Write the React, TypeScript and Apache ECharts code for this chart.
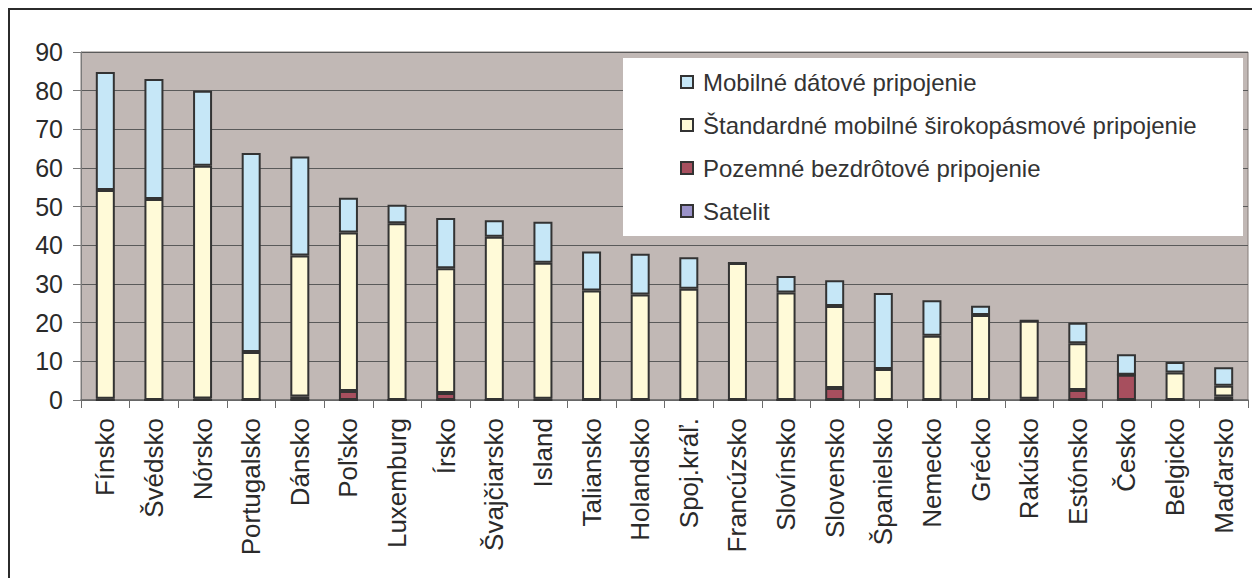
import React, { useEffect, useRef } from "react";
import * as echarts from "echarts";

const categories = [
  "Fínsko", "Švédsko", "Nórsko", "Portugalsko", "Dánsko", "Poľsko", "Luxemburg", "Írsko",
  "Švajčiarsko", "Island", "Taliansko", "Holandsko", "Spoj.kráľ.", "Francúzsko", "Slovínsko",
  "Slovensko", "Španielsko", "Nemecko", "Grécko", "Rakúsko", "Estónsko", "Česko", "Belgicko", "Maďarsko",
];

const satelit = [0, 0, 0, 0, 0, 0, 0, 0, 0, 0, 0, 0, 0, 0, 0, 0, 0, 0, 0, 0, 0, 0, 0, 0];
const pozemne = [0.3, 0, 0.4, 0, 0.9, 2.3, 0, 1.8, 0, 0.3, 0, 0, 0, 0, 0, 3.1, 0, 0, 0, 0.3, 2.6, 6.5, 0, 0.9];
const standard = [54, 52, 60.2, 12.4, 36.5, 41, 45.7, 32.3, 42.2, 35.2, 28.3, 27.3, 28.8, 35.4, 27.8, 21.2, 8.0, 16.6, 22.0, 20.2, 12.1, 0, 7.1, 2.8];
const mobilne = [30.5, 31, 19.4, 51.5, 25.6, 9, 4.8, 13, 4.3, 10.6, 10.1, 10.5, 8.1, 0, 4.3, 6.7, 19.7, 9.2, 2.4, 0, 5.3, 5.3, 2.7, 4.8];

const seriesNames = [
  "Satelit",
  "Pozemné bezdrôtové pripojenie",
  "Štandardné mobilné širokopásmové pripojenie",
  "Mobilné dátové pripojenie",
];
const seriesData = [satelit, pozemne, standard, mobilne];
const seriesColors = ["#9A92C8", "#A74F5E", "#FFFAD8", "#C6E7F7"];

const yMin = 0;
const yMax = 90;
const yInterval = 10;

const FONT = "'Liberation Sans', Arial, sans-serif";

export default function App() {
  const ref = useRef<HTMLDivElement>(null);

  useEffect(() => {
    if (!ref.current) return;
    const chart = echarts.init(ref.current, undefined, { renderer: "svg" });
    chart.setOption({
      animation: false,
      backgroundColor: "#ffffff",
      textStyle: { fontFamily: FONT },
      grid: {
        left: 73,
        top: 44,
        right: 12,
        bottom: 178,
        show: true,
        backgroundColor: "#C1B8B5",
        borderColor: "#857C79",
        borderWidth: 1,
      },
      graphic: [
        {
          type: "polyline",
          z: 20,
          shape: { points: [[1, 570], [1, 1], [1252, 1]] },
          style: { stroke: "#2b2b2b", lineWidth: 2, fill: null },
        },
        {
          type: "rect",
          z: 3,
          shape: { x: 615, y: 50, width: 620, height: 178 },
          style: { fill: "#ffffff", stroke: null },
        },
      ],
      legend: {
        z: 10,
        orient: "vertical",
        left: 672,
        top: 62,
        padding: 0,
        itemWidth: 12,
        itemHeight: 12,
        itemGap: 19,
        icon: "rect",
        data: [
          "Mobilné dátové pripojenie",
          "Štandardné mobilné širokopásmové pripojenie",
          "Pozemné bezdrôtové pripojenie",
          "Satelit",
        ],
        textStyle: {
          fontFamily: FONT,
          fontSize: 24,
          lineHeight: 24,
          color: "#333333",
          padding: [0, 0, 0, 5],
        },
      },
      xAxis: {
        type: "category",
        data: categories,
        boundaryGap: true,
        axisLine: { lineStyle: { color: "#6b6b6b", width: 1.5 } },
        axisTick: { show: true, length: 8, alignWithLabel: false, lineStyle: { color: "#6b6b6b" } },
        axisLabel: {
          rotate: 90,
          interval: 0,
          margin: 18,
          fontFamily: FONT,
          fontSize: 26,
          color: "#2a2a2a",
        },
      },
      yAxis: {
        type: "value",
        min: yMin,
        max: yMax,
        interval: yInterval,
        axisLine: { show: true, lineStyle: { color: "#7a7a7a", width: 1 } },
        axisTick: { show: true, length: 8, lineStyle: { color: "#7a7a7a" } },
        axisLabel: {
          margin: 18,
          fontFamily: FONT,
          fontSize: 25,
          color: "#2a2a2a",
        },
        splitLine: { show: true, lineStyle: { color: "#5a5a5a", width: 1 } },
      },
      series: seriesNames.map((name, i) => ({
        name,
        type: "bar",
        stack: "total",
        barWidth: 19,
        data: seriesData[i],
        itemStyle: {
          color: seriesColors[i],
          borderColor: "#333333",
          borderWidth: 2,
        },
        emphasis: { disabled: true },
      })),
    });
    return () => chart.dispose();
  }, []);

  return <div ref={ref} style={{ width: 1252, height: 570 }} />;
}
